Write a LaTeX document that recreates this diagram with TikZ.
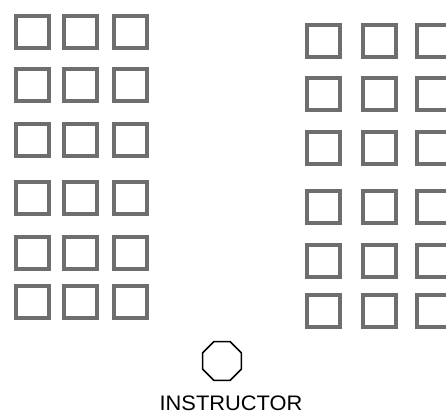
\documentclass[tikz,border=0pt]{standalone}
\usepackage{fontspec}
\setmainfont{Liberation Sans}
\usetikzlibrary{shapes.geometric}
\definecolor{seatgray}{HTML}{6E6E6E}
\begin{document}
\begin{tikzpicture}[x=1pt,y=-1pt,
  seat/.style={draw=seatgray,line width=3.6pt,minimum width=33pt,minimum height=32pt,inner sep=0pt,anchor=north west},
  desk/.style={draw=black,line width=1.6pt,regular polygon,regular polygon sides=8,minimum size=42pt,inner sep=0pt},
  lbl/.style={font=\fontsize{21}{21}\selectfont,anchor=base,inner sep=0pt}]
\useasboundingbox (0,0) rectangle (446,414);
\clip (0,0) rectangle (446,414);
% left block
\foreach \c/\x in {1/14,2/62,3/112}{
  \foreach \r/\y in {1/14,2/67,3/122,4/180,5/235,6/284}{
    \node[seat] (L\r\c) at (\x,\y) {};
  }
}
% right block
\foreach \c/\x in {1/305,2/361,3/415}{
  \foreach \r/\y in {1/23,2/76,3/130,4/189,5/243,6/293}{
    \node[seat] (R\r\c) at (\x,\y) {};
  }
}
\node[desk] (inst) at (222,361) {};
\node[lbl] (label) at (231,410) {\addfontfeature{FakeStretch=1.04}INSTRUCTOR};
\end{tikzpicture}
\end{document}
